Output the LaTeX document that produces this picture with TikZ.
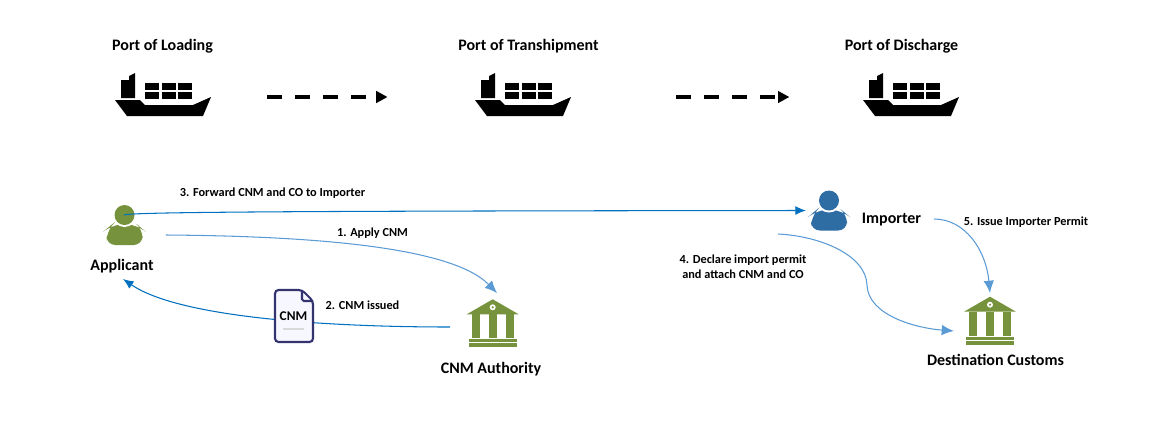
\documentclass[tikz,border=0pt]{standalone}
\usepackage{fontspec}
\setmainfont{Carlito}
\usetikzlibrary{arrows.meta,decorations.pathmorphing}
\definecolor{leaf}{HTML}{76923C}
\definecolor{deepblue}{HTML}{2E6CA4}
\definecolor{linkdark}{HTML}{0070C0}
\definecolor{linklight}{HTML}{5B9BD5}
\tikzset{
  place/.style={font=\bfseries\fontsize{9.1}{11}\selectfont,inner sep=0pt},
  step label/.style={font=\bfseries\fontsize{7}{8.6}\selectfont,inner sep=0pt},
  shipbox/.style={minimum height=50,inner sep=0pt},
  sea/.style={-{Triangle[length=6.5pt,width=6.5pt]},line width=2.3pt,dash pattern=on 8.5pt off 7.4pt},
  darklink/.style={-{Latex[length=6pt,width=5pt]},linkdark,line width=.6pt},
  lightlink/.style={-{Latex[length=7pt,width=6pt]},linklight,line width=.6pt},
  ship/.pic={
    \fill (0,0) -- (25,0) -- (30,5) -- (78,5) -- (96,-3) -- (88,16) -- (12,16) -- cycle;
    \fill (6,-2) -- (6,-20) -- (14,-20) -- (14,-24) -- (20,-27) -- (20,-19) -- (20,-2) -- cycle;
    \foreach \cx in {30,47,63}
      \foreach \cy in {-17,-8}
        \fill (\cx,\cy) rectangle +(14,7);
  },
  person/.pic={
    \fill[pic actions] (-18,30) [rounded corners=5] -- (18,30) -- (18,14) [rounded corners=7] -- (12,9) -- (-12,9) -- (-18,14) [rounded corners=5] -- cycle;
    \fill[white] (0,0) circle (12);
    \fill[pic actions] (0,0) circle (10);
  },
  bank/.pic={
    \fill[leaf] (0,0) -- (26,15) -- (-26,15) -- cycle;
    \fill[white] (0,8) circle (3);
    \fill[leaf] (0,8) circle (1.2);
    \foreach \cx in {-21,-4,13}
      \fill[leaf] (\cx,15) rectangle +(8,24);
    \fill[leaf] (-24,40) rectangle (24,43);
    \fill[leaf] (-24,44) rectangle (24,48);
  }
}
\begin{document}
\begin{tikzpicture}[x=.02cm,y=-.02cm]
  \useasboundingbox (0,0) rectangle (1157,427);
  % ports
  \node[place] (loading) at (162.5,46) {Port of Loading};
  \node[place] (tranship) at (528.5,46) {Port of Transhipment};
  \node[place] (discharge) at (901.5,46) {Port of Discharge};
  \pic at (115,100) {ship};
  \pic at (475,100) {ship};
  \pic at (863,100) {ship};
  \node[shipbox,minimum width=118] (shipA) at (163,97) {};
  \node[shipbox,minimum width=164] (shipB) at (532,97) {};
  \node[shipbox,minimum width=138] (shipC) at (911,97) {};
  \draw[sea] (shipA.east) -- (shipB.west);
  \draw[sea] (shipB.east) -- (shipC.west);
  % parties
  \pic[fill=leaf] at (124.5,215) {person};
  \pic[fill=deepblue] at (829,200.5) {person};
  \pic at (492.7,299.3) {bank};
  \pic at (990,296.7) {bank};
  \node[place] (applicant) at (122,266) {Applicant};
  \node[place] (importer) at (891.5,220) {Importer};
  \node[place] (authority) at (491,369.5) {CNM Authority};
  \node[place] (customs) at (995.5,360) {Destination Customs};
  % free ends of the links
  \coordinate (appHead) at (124,215);
  \coordinate (appSide) at (166,235);
  \coordinate (appBelow) at (123,279);
  \coordinate (authTop) at (497,293);
  \coordinate (authSide) at (450,327);
  \coordinate (impSide) at (806,210.5);
  \coordinate (impBelow) at (778,234);
  \coordinate (impRight) at (934,219);
  \coordinate (custTop) at (990,293);
  \coordinate (custSide) at (954,331);
  \draw[darklink] (appHead) .. controls (130,212) and (300,211) .. (impSide);
  \draw[lightlink] (appSide) .. controls (300,236) and (450,245) .. (authTop);
  \draw[darklink] (authSide) .. controls (330,327) and (180,318) .. (appBelow);
  \draw[lightlink] (impBelow) .. controls (820,236) and (866,255) .. (867,285) .. controls (868,315) and (915,328) .. (custSide);
  \draw[lightlink] (impRight) .. controls (965,219) and (986,250) .. (custTop);
  % document
  \draw[line width=1.2pt,draw=black!70!blue!80,fill=blue!3,rounded corners=2] (275,290) -- (302,290) -- (313,301) -- (313,342) -- (275,342) -- cycle;
  \draw[line width=1.2pt,draw=black!70!blue!80,rounded corners=1] (302,290) -- (302,301) -- (313,301);
  \fill[black!15] (283,328) rectangle (304,330);
  \node[step label,font=\bfseries\fontsize{7.6}{9}\selectfont] (cnmdoc) at (293.5,316) {CNM};
  % step labels
  \node[step label] (step3) at (272.5,193) {3. Forward CNM and CO to Importer};
  \node[step label] (step1) at (372.5,233) {1. Apply CNM};
  \node[step label] (step2) at (362.5,305.5) {2. CNM issued};
  \node[step label,align=center] (step4) at (743,266.5) {4. Declare import permit\\and attach CNM and CO};
  \node[step label] (step5) at (1026,222) {5. Issue Importer Permit};
\end{tikzpicture}
\end{document}
